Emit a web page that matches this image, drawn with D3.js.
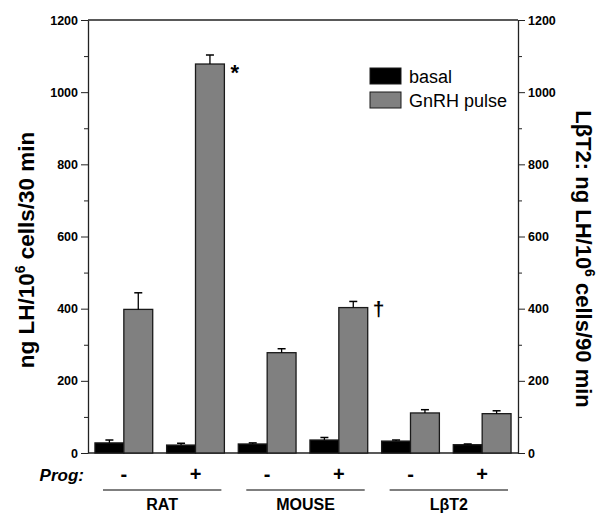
<!DOCTYPE html>
<html lang="en">
<head>
<meta charset="utf-8">
<title>LH release chart</title>
<script src="https://cdn.jsdelivr.net/npm/d3@7"></script>
<style>
body { margin: 0; background: #fff; }
text { font-family: "Liberation Sans", Arial, sans-serif; fill: #000; }
.tick text { font-weight: bold; font-size: 12.5px; }
</style>
</head>
<body>
<script>
// data
var groups = ["RAT", "MOUSE", "L\u03b2T2"];
var prog = ["-", "+", "-", "+", "-", "+"];
var conditions = ["RAT-", "RAT+", "MOUSE-", "MOUSE+", "LBT2-", "LBT2+"];
var basal = [28, 22, 25, 36, 33, 23];
var basalErr = [8, 5, 3, 7, 3, 2];
var pulse = [398, 1078, 278, 403, 111, 109];
var pulseErr = [46, 25, 11, 17, 9, 8];
var yTicks = [0, 200, 400, 600, 800, 1000, 1200];

var W = 598, H = 514;
var plotL = 88, plotR = 518, plotT = 20, plotB = 453;

var svg = d3.select("body").append("svg")
  .attr("width", W).attr("height", H);

var x = d3.scaleBand().domain(conditions).range([plotL, plotR])
  .paddingInner(0.194).paddingOuter(0.097);
var sub = d3.scaleBand().domain(["basal", "pulse"]).range([0, x.bandwidth()]);
var y = d3.scaleLinear().domain([0, 1200]).range([plotB, plotT]);

// frame
svg.append("line").attr("x1", plotL).attr("x2", plotR).attr("y1", plotT).attr("y2", plotT)
  .attr("stroke", "#222").attr("stroke-width", 1.3);
svg.append("line").attr("x1", plotL).attr("x2", plotR).attr("y1", plotB).attr("y2", plotB)
  .attr("stroke", "#222").attr("stroke-width", 1.3);

// axes, major + minor ticks
function drawAxis(axisFn, xpos) {
  var minor = svg.append("g").attr("transform", "translate(" + xpos + ",0)")
    .call(axisFn(y).tickValues(d3.range(100, 1200, 200)).tickSize(4).tickFormat(""));
  minor.select(".domain").remove();
  minor.selectAll("line").attr("stroke", "#222");
  var g = svg.append("g").attr("transform", "translate(" + xpos + ",0)")
    .call(axisFn(y).tickValues(yTicks).tickSize(7).tickSizeOuter(0).tickPadding(3)
      .tickFormat(d3.format("d")));
  g.select(".domain").attr("stroke", "#222").attr("stroke-width", 1.3);
  g.selectAll("line").attr("stroke", "#222");
  g.selectAll("text").attr("fill", "#000");
  return g;
}
drawAxis(d3.axisLeft, plotL);
drawAxis(d3.axisRight, plotR);

// bars
var errCap = 4;
function bars(vals, errs, key, fill) {
  var bx = function(d, i) { return x(conditions[i]) + sub(key); };
  svg.selectAll(".bar-" + key).data(vals).enter().append("rect")
    .attr("class", "bar-" + key)
    .attr("x", bx)
    .attr("y", function(d) { return y(d); })
    .attr("width", sub.bandwidth())
    .attr("height", function(d) { return y(0) - y(d); })
    .attr("fill", fill).attr("stroke", "#1a1a1a").attr("stroke-width", 1.3);
  var eg = svg.selectAll(".err-" + key).data(vals).enter().append("g");
  eg.append("line")
    .attr("x1", function(d, i) { return bx(d, i) + sub.bandwidth() / 2; })
    .attr("x2", function(d, i) { return bx(d, i) + sub.bandwidth() / 2; })
    .attr("y1", function(d) { return y(d); })
    .attr("y2", function(d, i) { return y(d + errs[i]); })
    .attr("stroke", "#000").attr("stroke-width", 1.3);
  eg.append("line")
    .attr("x1", function(d, i) { return bx(d, i) + sub.bandwidth() / 2 - errCap; })
    .attr("x2", function(d, i) { return bx(d, i) + sub.bandwidth() / 2 + errCap; })
    .attr("y1", function(d, i) { return y(d + errs[i]); })
    .attr("y2", function(d, i) { return y(d + errs[i]); })
    .attr("stroke", "#000").attr("stroke-width", 1.5);
}
bars(basal, basalErr, "basal", "#000");
bars(pulse, pulseErr, "pulse", "#808080");

// significance marks
svg.append("text").attr("x", x("RAT+") + x.bandwidth() + 6).attr("y", y(1078) + 16)
  .attr("font-size", 22).attr("font-weight", "bold").text("*");
svg.append("text").attr("x", x("MOUSE+") + x.bandwidth() + 5).attr("y", y(403) + 8)
  .attr("font-size", 21).attr("font-weight", "bold").attr("fill", "#000").text("\u2020");

// legend
var legend = [["basal", "#000"], ["GnRH pulse", "#808080"]];
var lg = svg.selectAll(".leg").data(legend).enter().append("g")
  .attr("transform", function(d, i) { return "translate(370," + (68 + i * 24) + ")"; });
lg.append("rect").attr("width", 31).attr("height", 16)
  .attr("fill", function(d) { return d[1]; }).attr("stroke", "#1a1a1a").attr("stroke-width", 1);
lg.append("text").attr("x", 39).attr("y", 15).attr("font-size", 18)
  .text(function(d) { return d[0]; });

// Prog row
svg.append("text").attr("x", 84).attr("y", 481).attr("text-anchor", "end")
  .attr("font-size", 17).attr("font-weight", "bold").attr("font-style", "italic").text("Prog:");
svg.selectAll(".prog").data(prog).enter().append("text")
  .attr("x", function(d, i) { return x(conditions[i]) + x.bandwidth() / 2; })
  .attr("y", 481).attr("text-anchor", "middle")
  .attr("font-size", 20).attr("font-weight", "bold").text(function(d) { return d; });

// group underlines and names
groups.forEach(function(g, k) {
  var x0 = x(conditions[2 * k]) + 8;
  var x1 = x(conditions[2 * k + 1]) + x.bandwidth() - 3;
  svg.append("line").attr("x1", x0).attr("x2", x1).attr("y1", 490).attr("y2", 490)
    .attr("stroke", "#000").attr("stroke-width", 1.2);
  svg.append("text").attr("x", (x0 + x1) / 2).attr("y", 510).attr("text-anchor", "middle")
    .attr("font-size", 16).attr("font-weight", "bold").text(g);
});

// y titles
var lt = svg.append("text").attr("transform", "translate(34,250) rotate(-90)")
  .attr("text-anchor", "middle").attr("font-size", 22.5).attr("font-weight", "bold");
lt.append("tspan").text("ng LH/10");
lt.append("tspan").attr("dy", -9).attr("font-size", 14).text("6");
lt.append("tspan").attr("dy", 9).text(" cells/30 min");

var rt = svg.append("text").attr("transform", "translate(576,259) rotate(90)")
  .attr("text-anchor", "middle").attr("font-size", 22).attr("font-weight", "bold");
rt.append("tspan").text("L\u03b2T2: ng LH/10");
rt.append("tspan").attr("dy", -9).attr("font-size", 14).text("6");
rt.append("tspan").attr("dy", 9).text(" cells/90 min");
</script>
</body>
</html>
